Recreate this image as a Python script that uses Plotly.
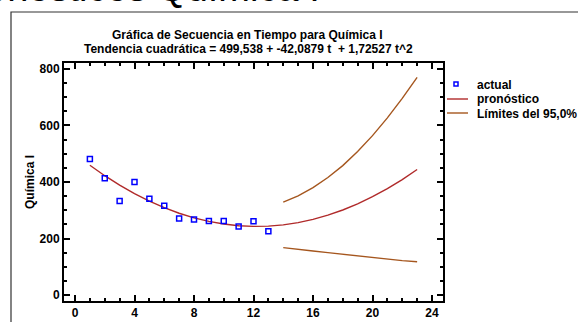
import plotly.graph_objects as go

# Observed series (t = 1..13)
t_actual = [1, 2, 3, 4, 5, 6, 7, 8, 9, 10, 11, 12, 13]
quimica = [481, 413, 333, 400, 341, 316, 271, 267, 262, 262, 243, 261, 226]

# Quadratic trend 499,538 - 42,0879 t + 1,72527 t^2 evaluated at t = 1..23
t_fc = list(range(1, 24))
pronostico = [459.18, 422.26, 388.80, 358.79, 332.23, 309.12, 289.46, 273.25,
              260.49, 251.19, 245.33, 242.92, 243.97, 248.46, 256.41, 267.80,
              282.65, 300.94, 322.69, 347.89, 376.54, 408.64, 444.18]

# 95% limits for the forecast horizon t = 14..23
t_lim = [14, 15, 16, 17, 18, 19, 20, 21, 22, 23]
lim_sup = [329, 351, 380, 416, 458, 508, 564, 627, 696, 770]
lim_inf = [168, 161, 156, 150, 144, 138, 132, 127, 122, 118]

x_ticks = [0, 4, 8, 12, 16, 20, 24]
y_ticks = [0, 200, 400, 600, 800]

FONT = "Liberation Sans, Arial, sans-serif"
C_ACT = "#0000FF"
C_FC = "#B02A2A"
C_LIM = "#A5561E"

W, H = 578, 322
ML, MR, MT, MB = 64, 135, 63, 21
PW, PH = W - ML - MR, H - MT - MB


def px(x):
    return (x - ML) / PW


def py(y):
    return (H - MB - y) / PH


fig = go.Figure()
fig.add_trace(go.Scatter(x=t_fc, y=pronostico, mode="lines",
                         line=dict(color=C_FC, width=1.4), showlegend=False))
fig.add_trace(go.Scatter(x=t_lim, y=lim_sup, mode="lines",
                         line=dict(color=C_LIM, width=1.4), showlegend=False))
fig.add_trace(go.Scatter(x=t_lim, y=lim_inf, mode="lines",
                         line=dict(color=C_LIM, width=1.4), showlegend=False))
fig.add_trace(go.Scatter(x=t_actual, y=quimica, mode="markers",
                         marker=dict(symbol="square-open", size=5, color=C_ACT,
                                     line=dict(color=C_ACT, width=1.5)),
                         showlegend=False))

axis_common = dict(
    showgrid=False, zeroline=False, showline=True, linecolor="black",
    linewidth=2, mirror="allticks", ticks="inside", ticklen=6, tickwidth=1.5,
    tickcolor="black", automargin=False,
    tickfont=dict(family=FONT, size=12, color="black", weight="bold"),
)
fig.update_xaxes(range=[-0.74, 24.74], tickvals=x_ticks, ticklabelstandoff=0,
                 minor=dict(dtick=1, ticks="inside", ticklen=3, tickcolor="black"),
                 **axis_common)
fig.update_yaxes(range=[-21, 821], tickvals=y_ticks,
                 minor=dict(dtick=50, ticks="inside", ticklen=3, tickcolor="black"),
                 title=dict(text="Química I", standoff=2,
                            font=dict(family=FONT, size=12, color="black", weight="bold")),
                 **axis_common)


def note(text, x, y, size, xanchor="center", yanchor="middle", bold=True):
    return dict(text=text, xref="paper", yref="paper", x=px(x), y=py(y),
                xanchor=xanchor, yanchor=yanchor, showarrow=False,
                font=dict(family=FONT, size=size, color="black",
                          weight="bold" if bold else "normal"))


annotations = [
    # window heading, partly outside the canvas
    note("Pronósticos Química I", -54, 11, 38, "left", "bottom", bold=False),
    note("Gráfica de Secuencia en Tiempo para Química I", 247, 35, 12),
    note("Tendencia cuadrática = 499,538 + -42,0879 t  + 1,72527 t^2", 248, 49, 12),
]
legend_items = ["actual", "pronóstico", "Límites del 95,0%"]
legend_y = [85, 99, 114]
for label, ly in zip(legend_items, legend_y):
    annotations.append(note(label, 475, ly, 12, "left", "middle"))

shapes = [
    # outer frame
    dict(type="rect", xref="paper", yref="paper", x0=px(11), x1=px(620),
         y0=py(12), y1=py(360), line=dict(color="#333333", width=1.2)),
    # legend keys
    dict(type="rect", xref="paper", yref="paper", x0=px(454), x1=px(458),
         y0=py(82), y1=py(86), line=dict(color=C_ACT, width=1.5)),
    dict(type="line", xref="paper", yref="paper", x0=px(447), x1=px(468),
         y0=py(99), y1=py(99), line=dict(color=C_FC, width=1.4)),
    dict(type="line", xref="paper", yref="paper", x0=px(447), x1=px(468),
         y0=py(113), y1=py(113), line=dict(color=C_LIM, width=1.4)),
]

fig.update_layout(
    width=W, height=H, autosize=False,
    margin=dict(l=ML, r=MR, t=MT, b=MB, pad=0, autoexpand=False),
    paper_bgcolor="white", plot_bgcolor="white",
    showlegend=False, annotations=annotations, shapes=shapes,
)
fig.write_html("out.html")
